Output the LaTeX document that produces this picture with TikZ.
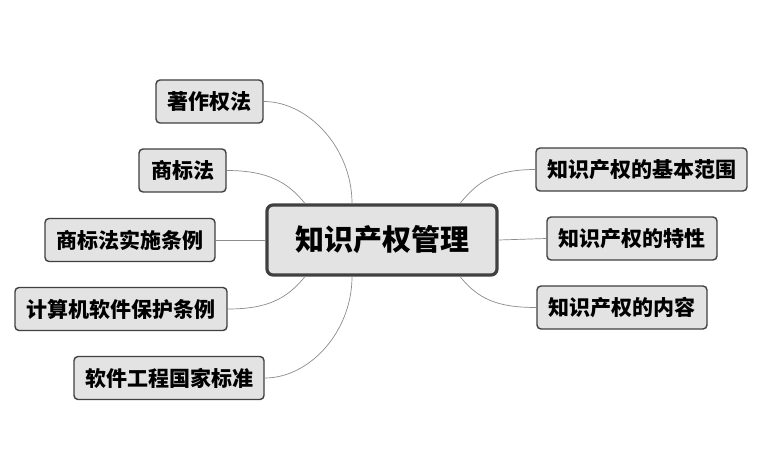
\documentclass[tikz,border=0pt]{standalone}
\usepackage{fontspec}
\newfontfamily\cjk{Noto Sans CJK SC}
\begin{document}
\begin{tikzpicture}[x=1pt,y=-1pt,
  leaf/.style={draw=black!75, fill=black!11, line width=1.4pt, rounded corners=4pt,
    minimum height=43pt, inner sep=0pt, font=\cjk\fontsize{21}{24}\selectfont\bfseries},
  hub/.style={draw=black!75, fill=black!11, line width=3.2pt, rounded corners=6pt,
    minimum width=230pt, minimum height=70pt, inner sep=0pt, font=\cjk\fontsize{29}{32}\selectfont\bfseries},
  link/.style={draw=black!45, line width=0.7pt}]
\useasboundingbox[fill=white] (0,0) rectangle (780,468);
\node[hub] (m) at (382,240) {知识产权管理};
\node[leaf, minimum width=107pt] (a) at (209.5,101.5) {著作权法};
\node[leaf, minimum width=87pt] (b) at (182.5,170.5) {商标法};
\node[leaf, minimum width=170pt] (c) at (130,240) {商标法实施条例};
\node[leaf, minimum width=212pt] (d) at (121,309) {计算机软件保护条例};
\node[leaf, minimum width=190pt] (e) at (169,378) {软件工程国家标准};
\node[leaf, minimum width=211pt] (r1) at (641.5,169.5) {知识产权的基本范围};
\node[leaf, minimum width=170pt] (r2) at (632,238.5) {知识产权的特性};
\node[leaf, minimum width=170pt] (r3) at (622,307.5) {知识产权的内容};
\coordinate (ta) at ([xshift=-30pt]m.north);
\coordinate (tb) at ([xshift=-77pt]m.north);
\coordinate (ba) at ([xshift=-30pt]m.south);
\coordinate (bb) at ([xshift=-77pt]m.south);
\coordinate (tr) at ([xshift=78pt]m.north);
\coordinate (br) at ([xshift=78pt]m.south);
\path[link] (ta) .. controls +(0,-55) and +(45,0) .. (a.east);
\path[link] (tb) .. controls +(-18,-22) and +(40,0) .. (b.east);
\path[link] (m.west) -- (c.east);
\path[link] (bb) .. controls +(-18,22) and +(40,0) .. (d.east);
\path[link] (ba) .. controls +(0,55) and +(45,0) .. (e.east);
\path[link] (tr) .. controls +(18,-22) and +(-40,0) .. (r1.west);
\path[link] (m.east) -- (r2.west);
\path[link] (br) .. controls +(18,22) and +(-40,0) .. (r3.west);
\end{tikzpicture}
\end{document}
